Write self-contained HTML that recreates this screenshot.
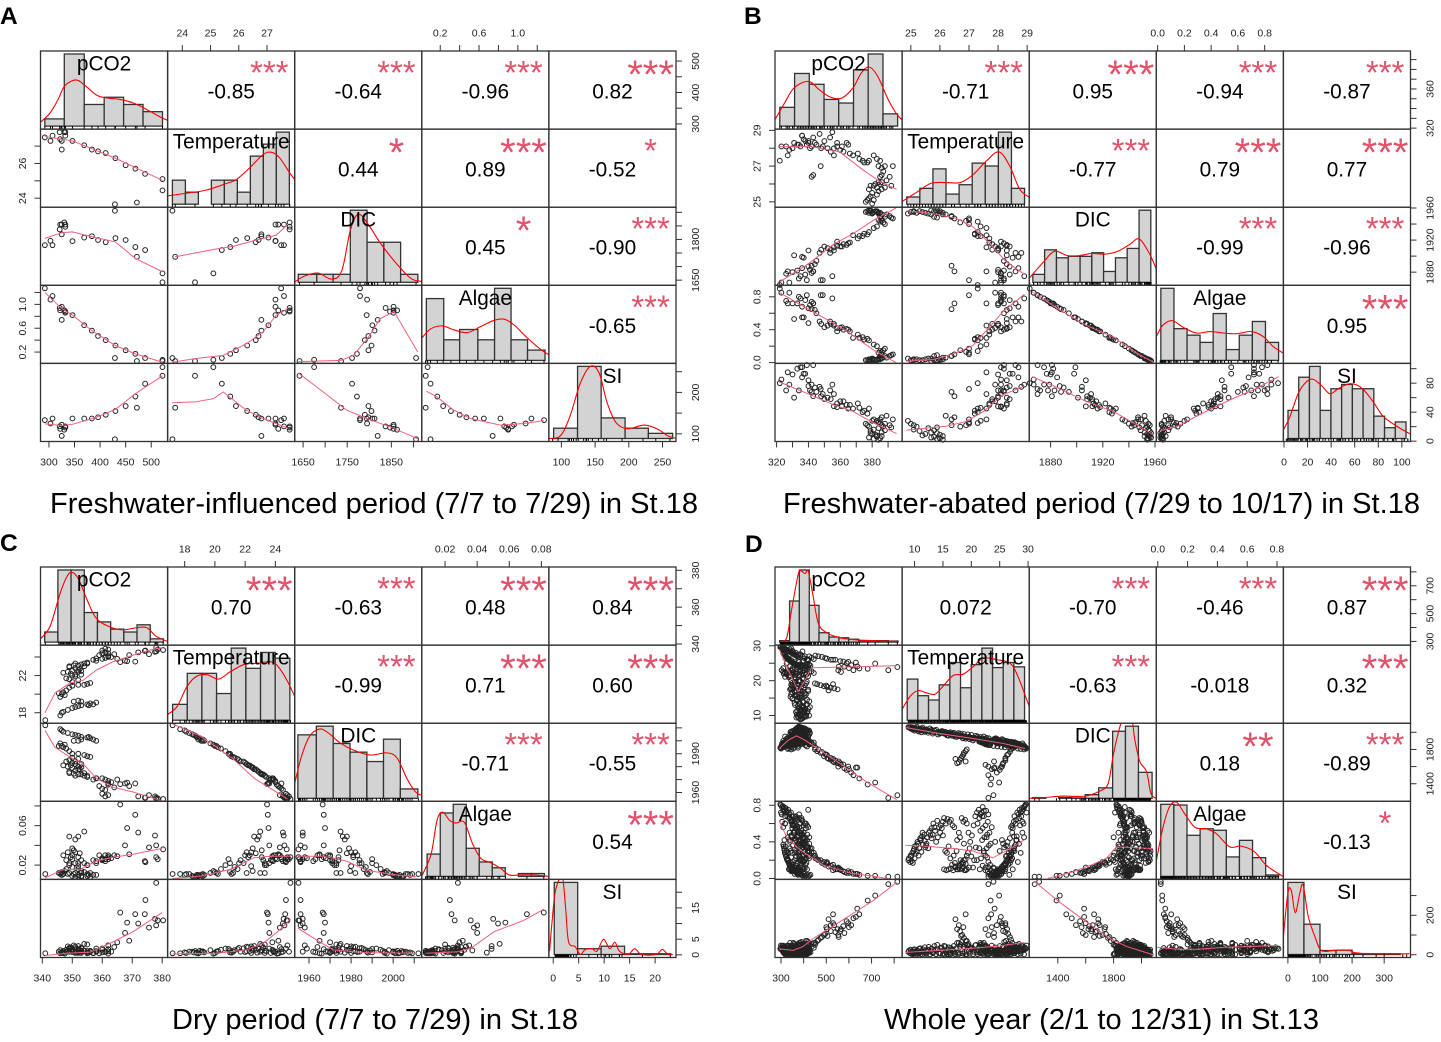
<!DOCTYPE html>
<html lang="en">
<head>
<meta charset="utf-8">
<title>Correlation matrices for four periods</title>
<style>
html,body{margin:0;padding:0;background:#fff}
svg{display:block}
text{font-family:"Liberation Sans",Arial,sans-serif}
</style>
</head>
<body>
<svg id="figure" width="1441" height="1042" viewBox="0 0 1441 1042" xmlns="http://www.w3.org/2000/svg">
<text x="0" y="24" font-size="24.5" font-weight="bold">A</text>
<text x="744" y="24" font-size="24.5" font-weight="bold">B</text>
<text x="0" y="551" font-size="24.5" font-weight="bold">C</text>
<text x="745" y="552" font-size="24.5" font-weight="bold">D</text>
<text x="50" y="513" font-size="29" textLength="648" lengthAdjust="spacing">Freshwater-influenced period (7/7 to 7/29) in St.18</text>
<text x="783" y="513" font-size="29" textLength="637" lengthAdjust="spacing">Freshwater-abated period (7/29 to 10/17) in St.18</text>
<text x="172" y="1029" font-size="29" textLength="406" lengthAdjust="spacing">Dry period (7/7 to 7/29) in St.18</text>
<text x="884" y="1029" font-size="29" textLength="435" lengthAdjust="spacing">Whole year (2/1 to 12/31) in St.13</text>
</svg>
<script>
const varNames = ['pCO2','Temperature','DIC','Algae','SI'];

/* ---------- Panel A ---------- */
const A_domains = [[283.5,532],[23.48,27.98],[1631,1919],[0.01,1.32],[81.5,270]];
const A_ticks = [[300,350,400,450,500],[24,25,26,27],[1650,1700,1750,1800,1850,1900],[0.2,0.4,0.6,0.8,1.0,1.2],[100,150,200,250]];
const A_hLabels = [['300','350','400','450','500'],['24','25','26','27'],['1650','1750','1850'],['0.2','0.6','1.0'],['100','150','200','250']];
const A_vLabels = [['300','400','500'],['24','26'],['1650','1800'],['0.2','0.6','1.0'],['100','200']];
const A_corr = ['-0.85','-0.64','-0.96','0.82','0.44','0.89','-0.52','0.45','-0.90','-0.65'];
const A_stars = ['***','***','***','***','*','***','*','*','***','***'];
const A_obs = [
[292,27.5,1779,1.27,133],[303,27.3,1795,1.08,125],[307,27.6,1779,1.14,137],[321,27.8,1837,.94,118],[322,27.4,1855,.9,112],
[325,26.8,1819,.74,95],[325,27.3,1855,.96,122],[330,27.8,1863,.9,110],[332,27.8,1847,.88,115],[332,27.6,1855,.86,118],
[346,27.3,1794,.82,137],[369,27.05,1807,.65,137],[384,26.8,1812,.56,137],[396,26.7,1798,.47,140],[411,26.6,1790,.4,146],
[430,26.3,1805,.31,155],[429,23.65,1906,.1,87],[450,25.9,1798,.23,167],[469,25.7,1772,.17,190],[472,23.75,1736,.05,163],
[488,25.4,1761,.1,221],[522,24.45,1642,.05,240],[522,25.1,1675,.07,261]];
const A_breaks = [[292,330,369,408,446,484,522],[23.65,24.11,24.57,25.03,25.49,25.95,26.41,26.87,27.33,27.79],[1639,1681,1718,1757,1795,1833,1871,1910],[.057,.236,.4,.588,.76,.93,1.1,1.28],[88.5,124,159,194.5,229,265]];
const A_heights = [[1,10,3,4,3,2],[2,1,0,2,2,1,4,5,6],[1,1,1,9,5,5,1],[6,2,3,2,7,2,1],[2,14,4,2,1]];
const A_density = [
[[283,.5],[302,1.8],[318,3.7],[331,5.6],[353,6.4],[371,5.6],[393,4.3],[413,3.9],[439,3.7],[465,3.2],[491,2.3],[518,1.25],[532,.8]],
[[23.47,.69],[24.15,.91],[24.86,1.18],[25.57,1.73],[25.92,2.06],[26.39,3.03],[26.86,4.13],[27.16,4.32],[27.45,3.85],[27.8,2.61],[27.98,2.06]],
[[1631,.05],[1654,.8],[1684,1.15],[1715,.4],[1738,1.5],[1757,6.5],[1775,8.5],[1798,7.2],[1825,4.9],[1859,2.5],[1894,.5],[1919,.1]],
[[.005,2.1],[.098,3.04],[.22,3.35],[.34,2.97],[.48,2.7],[.62,3.3],[.75,3.87],[.86,4],[.96,3.45],[1.1,2.16],[1.24,1.03],[1.32,.55]],
[[81,0],[98.5,.5],[113,4.4],[128,10.7],[143,14],[156,12.7],[168,6.9],[181,3.1],[198,1.9],[223,2.6],[243,1.8],[258,.5],[271,0]]];
const A_loess = [
[[292,27.55],[346,27.3],[384,26.85],[430,26.3],[522,25.03]],
[[292,1804],[325,1825],[346,1828],[384,1810],[430,1791],[469,1730],[522,1681]],
[[23.74,1736],[25.1,1763],[25.8,1775],[26.63,1798],[27.33,1816],[27.75,1857]],
[[292,1.2],[325,.93],[346,.82],[384,.56],[430,.31],[469,.17],[522,.03]],
[[23.65,.03],[24.45,.09],[25.45,.145],[26.27,.34],[26.86,.54],[27.33,.82],[27.75,.93]],
[[1639,.04],[1736,.06],[1764,.145],[1798,.45],[1825,.76],[1856,.88],[1910,.2]],
[[292,124],[325,120],[346,123],[393,140],[430,159],[469,197],[522,240]],
[[23.65,175],[24.45,177],[25.1,185],[25.45,201],[26.27,157],[26.86,137],[27.33,125],[27.75,113]],
[[1639,247],[1681,213],[1749,157],[1795,137],[1856,113],[1910,88]],
[[.057,203],[.167,189],[.34,157],[.51,137],[.82,121],[1.06,125],[1.27,132]]];

/* ---------- Panel B ---------- */
const B_domains = [[319,398.8],[24.7,29.07],[1863.6,1961],[-.01,.94],[-.5,107.3]];
const B_ticks = [[320,330,340,350,360,370,380,390],[25,26,27,28,29],[1880,1900,1920,1940,1960],[0,.2,.4,.6,.8],[0,20,40,60,80,100]];
const B_hLabels = [['320','340','360','380'],['25','26','27','28','29'],['1880','1920','1960'],['0.0','0.2','0.4','0.6','0.8'],['0','20','40','60','80','100']];
const B_vLabels = [['320','360'],['25','27','29'],['1880','1920','1960'],['0.0','0.4','0.8'],['0','40','80']];
const B_corr = ['-0.71','0.95','-0.94','-0.87','-0.77','0.79','0.77','-0.99','-0.96','0.95'];
const B_stars = ['***','***','***','***','***','***','***','***','***','***'];
const B_obs = [
[376,25,1955,.03,24],[377,25.1,1956,.03,22],[378,25.2,1954,.04,20],[380,24.9,1953,.05,28],[381,25.1,1955,.04,16],[379,25.3,1956,.03,14],[380,25.5,1954,.04,10],[383,25.4,1955,.03,8],[384,25.6,1953,.05,18],[378,25.7,1957,.02,5],
[381,25.9,1955,.03,3],[383,25.8,1956,.03,6],[385,26,1954,.04,4],[382,26,1956,.03,9],[386,25.7,1952,.05,12],[379,25.9,1957,.02,11],[384,26.1,1954,.04,2],[388,25.8,1949,.08,15],[386,26.1,1952,.06,7],[392,25.9,1948,.09,19],
[375,27.2,1928,.28,42],[377,27.2,1927,.29,38],[378,27.3,1930,.27,45],[381,27.6,1935,.22,30],[383,27.4,1937,.2,28],[385,27.3,1943,.14,25],[386,26.9,1944,.13,22],[384,27,1945,.12,26],[387,26.7,1942,.15,20],[388,27,1940,.17,24],
[386,26.5,1947,.1,33],[389,26.2,1952,.06,35],[385,26.4,1949,.08,30],[393,27,1947,.1,30],[391,26.4,1950,.08,22],
[345,28.2,1894,.6,68],[352,28,1910,.45,60],[354,27.8,1908,.47,58],[356,27.6,1911,.45,65],[358,28.3,1913,.42,52],[360,27.9,1912,.42,55],[361,28.1,1912,.43,48],[362,27.8,1915,.4,55],[365,28.2,1916,.4,45],[366,27.7,1917,.38,50],
[368,27.6,1926,.3,45],[371,27.7,1922,.34,52],[364,28.3,1914,.41,50],[372,27.4,1925,.3,46],[374,27.3,1925,.31,40],[356,28,1907,.47,48],[358,28.1,1918,.38,47],
[322,27.3,1864,.9,80],[323,28.1,1867,.85,85],[326,28.1,1878,.75,70],[327,27.6,1881,.72,95],[328,27.9,1867,.85,78],[330,28,1880,.72,92],[331,28.3,1901,.53,60],[333,28.2,1882,.72,100],[334,28.2,1872,.8,70],[335,28.1,1875,.78,102],
[336,28.7,1899,.55,102],[337,28.5,1898,.55,93],[338,28.4,1877,.76,93],[339,28.2,1870,.82,105],[340,28.3,1907,.48,84],[340,28.4,1887,.66,76],[341,28,1883,.7,70],[342,28.1,1879,.74,78],[343,28.6,1881,.72,105],[344,28.3,1890,.64,74],
[348,28,1908,.47,62],[349,28.1,1870,.82,65],[350,28.4,1912,.43,58],[342,26.4,1888,.65,68],[343,26.5,1881,.72,62],[347.7,27,1870,.82,72],[355,28.9,1875,.78,78],[353.6,28.6,1904,.5,70],[347,28.8,1904,.5,75],[336,28.7,1885,.68,88]];
const B_breaks = [[322,331.3,340.5,349.8,359,368.3,377.5,386.8,396],[24.86,25.31,25.76,26.21,26.66,27.11,27.56,28.01,28.46,28.91],[1866.4,1875.4,1884.5,1893.5,1902.6,1911.6,1920.6,1929.7,1938.7,1947.8,1956.8],[.024,.122,.22,.317,.415,.513,.61,.708,.806,.904],[3.4,12.5,21.6,30.7,39.8,48.9,58,67.1,76.2,85.3,94.4,103.5]];
const B_heights = [[26,73,58,37,32,78,100,17],[10,22,49,14,27,57,53,100,22],[11,45,34,36,36,41,15,34,47,100],[100,44,35,25,65,15,35,54,25],[39,85,100,39,69,75,69,69,31,15,23]];
const B_density = [
[[319,9],[325,32],[331,53],[340,62],[347,50],[354,40],[361,39],[368,53],[373,73],[378,82],[383.5,69],[390,37],[395,18],[398.5,9]],
[[24.7,3.7],[25.2,16.5],[25.7,29],[26.2,30],[26.7,30],[27.14,41],[27.6,60],[28.03,72.5],[28.4,53],[28.74,21],[29.07,9.6]],
[[1864,6.5],[1875,29],[1883,43],[1893,37],[1902,37],[1911.5,40],[1921.5,39],[1931.5,43],[1941,53],[1948,60],[1956,39],[1961,18]],
[[-.01,33],[.04,49],[.11,55],[.19,46],[.29,38],[.39,40],[.49,38],[.59,37],[.7,40],[.79,33],[.865,19],[.94,10]],
[[-.5,12],[5.2,31],[12.2,63],[19.3,79],[24.9,82],[32,73],[39,62],[46,69],[56,76],[66,70],[76,50],[84,31],[95.6,17],[107.4,6]]];
const B_loess = [
[[322,28.08],[340.8,28.1],[359.6,27.8],[374,26.8],[384.6,26.15],[395.4,25.7]],
[[322,1868],[339,1889],[356,1915],[368,1928],[381,1945],[395,1960]],
[[24.85,1956.6],[25.77,1953],[26.57,1947],[27.14,1936.6],[27.7,1916],[28.28,1893],[28.9,1877.5]],
[[321.5,.854],[339,.66],[356,.476],[368,.33],[381,.15],[395,0]],
[[24.85,.016],[25.77,.037],[26.57,.117],[27.14,.21],[27.6,.39],[28.17,.62],[28.9,.83]],
[[1866,.86],[1887,.64],[1907,.455],[1928,.31],[1948.5,.09],[1958.7,.007]],
[[321.5,82],[339,66],[356,50],[368,41],[381,25],[395.4,10.5]],
[[24.85,15],[25.54,18],[26.2,20.5],[26.9,27],[27.5,41],[28.17,64],[28.9,76]],
[[1866,89],[1884,75],[1907,55],[1928,41],[1948.5,20],[1958.7,9]],
[[.016,14],[.14,20],[.34,39],[.565,59],[.714,70.5],[.904,89]]];

/* ---------- Panel C ---------- */
const C_domains = [[339.4,381.8],[16.87,25.28],[1953.2,2013.6],[.0055,.0847],[-.85,24.1]];
const C_ticks = [[340,350,360,370,380],[18,20,22,24],[1960,1970,1980,1990,2000,2010],[.02,.04,.06,.08],[0,5,10,15,20]];
const C_hLabels = [['340','350','360','370','380'],['18','20','22','24'],['1960','1980','2000'],['0.02','0.04','0.06','0.08'],['0','5','10','15','20']];
const C_vLabels = [['340','360','380'],['18','22'],['1960','1990'],['0.02','0.06'],['0','5','15']];
const C_corr = ['0.70','-0.63','0.48','0.84','-0.99','0.71','0.60','-0.71','-0.55','0.54'];
const C_stars = ['***','***','***','***','***','***','***','***','***','***'];
const C_obs = [
[366,23.45,1966.5,.0815,13.5],[371,23.5,1967,.071,13],[368.3,23.55,1967.6,.0576,10.3],[367.6,23.6,1967,.04,7],[372,24.5,1957,.053,10],[374.4,24.7,1956,.023,17.5],[374.2,24.65,1956,.024,13],[375.6,24.3,1958,.038,8.7],[377.6,24.55,1957,.05,11.5],[378,25,1955,.028,23],[378,24.6,1956,.04,9.4],[380.3,24.75,1955,.036,11],[378.5,24.8,1955.5,.026,11],
[341,17.2,2012,.011,.5],[346,17.7,2009,.011,.5],[346.5,18,2008,.01,.8],[347,18.1,2007,.011,.6],[348.5,18.3,2006,.011,1],[350,18.5,2005,.009,1],[351,18.6,2004.5,.008,.8],[352,18.7,2004,.008,1.2],[353,18.8,2003,.008,.6],[353,19.2,2001,.009,1],[355,18.9,2002.5,.009,.5],[355.5,18.8,2003,.01,.7],[356,19,2002,.008,1.3],[357,18.9,2001,.01,.5],[358,19.1,2000,.01,1],[350.5,19.2,2000,.011,1.1],[352,19.3,2000,.01,.8],
[346,19.7,1998,.012,1.5],[346.5,20,1996,.013,.6],[347,20.2,1995,.011,1.2],[347.5,19.9,1997,.014,.4],[345.5,20.1,1996,.012,1],[348,20.4,1994,.016,1.6],[349,20.7,1992,.02,2],[352,21,1990,.022,.8],
[350,21.3,1987,.018,1.5],[349,21.6,1985,.022,2.2],[348,21.7,1984,.025,1],[350,22,1983,.03,.9],[351,22.1,1982,.033,2.6],[347,22.3,1981,.03,1.2],[348.5,22.4,1980,.033,2.7],[350,22.5,1979,.037,1.4],[352,22.6,1978,.049,2.8],[351,22.8,1977,.046,.7],[352.5,22.7,1978,.032,1.6],[349,22.9,1976,.049,1.9],[354,23,1975,.054,3.5],[350.5,23.1,1974.5,.035,3],[352,23.1,1974,.028,1.5],[353,23.2,1974,.025,2.3],[354,23.3,1973,.022,1.3],[355,23.3,1973,.02,3.3],[351,23.3,1973,.012,.6],[353,22.1,1982,.012,1.2],[355,21.1,1988,.011,.7],[356,21.2,1987.5,.012,1],[354,21,1989,.013,1.4],[352,21.5,1986,.016,1.8],[349.5,22.2,1981,.028,2.4],[350,20.9,1990,.026,1.9],[351,21.9,1984,.022,2.1],[352,22.4,1980,.019,.6],[353,22.5,1979.5,.014,2],
[358,23.85,1971,.024,1.2],[360,23.8,1971,.025,1.6],[361,23.9,1970,.03,.9],[362,24,1969,.03,1.1],[362,24.4,1967,.028,1.8],[363,24,1968,.027,1],[365,23.8,1970,.029,4],[359,24.2,1965,.03,.5],[360,24.4,1963,.026,.8],[361,24.5,1962,.024,1],[362,24.1,1966,.026,.4],[358,23.6,1971,.022,2],[355,23.4,1972,.02,1.2],[357,23.7,1970,.025,.6],[349,23,1975,.012,1],[360,24.7,1959,.027,2],[361,24.9,1957,.026,1],[362,24.8,1958,.028,3],[369,24.2,1965,.031,4.5],[364,24.3,1964,.03,2.5]];
const C_breaks = [[340.8,345.2,349.6,354,358.4,362.8,367.2,371.6,376,380.4],[17.2,18.17,19.14,20.11,21.08,22.05,23.02,23.99,24.96],[1954.7,1963.5,1971.5,1979.5,1987.5,1995.4,2003.4,2011.7],[.0088,.017,.0251,.0332,.0413,.0494,.0575,.0657,.0738,.0819],[.2,4.8,9.4,14,18.6,23.1]];
const C_heights = [[14,100,100,41,28,18,14,24,4.5],[22,65,65,37,100,72,94,86],[88,100,76,64,51,82,13],[31,88,100,39,20,12,0,4,4],[100,8,11.5,1,1]];
const C_density = [
[[339.4,4.5],[342.6,22],[345.9,67],[348.1,90],[349.8,97],[352,88],[354.8,60],[358,33],[362.6,21],[367,17],[371.5,20],[374.8,20],[378,8],[381.7,1]],
[[16.87,8],[17.5,19],[18.16,47],[18.8,61],[19.5,63],[20.25,57],[21,67],[21.9,77],[22.8,79],[23.7,81],[24.2,74],[24.8,54],[25.3,32]],
[[1953.2,20.5],[1956.4,58],[1960.3,86],[1965,96],[1969,91],[1974.7,77],[1981,67],[1989,60],[1997,63],[2001.8,56],[2006.6,27],[2010.6,9],[2013.5,4]],
[[.0057,1.4],[.0113,31],[.015,78],[.0186,89],[.0227,78],[.0268,74],[.032,75],[.0372,45],[.0423,25],[.0485,19],[.0547,11],[.0599,2],[.0671,2],[.0754,2],[.0847,0]],
[[-.72,4.6],[-.2,48],[.45,89],[1.75,108],[2.4,67],[3,18],[4.3,11],[5.3,0],[6.3,7],[7.6,8],[8.6,4.6],[9.85,21],[11.1,8],[12.1,17],[13,4.6],[14.7,0],[16,8],[17.3,0],[20.2,0],[21.4,7],[22.5,0],[23.5,0]]];
const C_loess = [
[[340.9,18],[344.2,20.1],[349.2,21.2],[353.7,21.5],[358,22.6],[363.7,23.5],[370.3,24.2],[375.3,24.7],[380,25]],
[[340.9,2008],[344.2,1995],[349.2,1987.5],[353.7,1982],[358,1971],[363.7,1964],[370.3,1960.4],[380,1953.4]],
[[17.2,2013],[19,2004],[21.2,1986],[22.6,1971],[24.8,1955]],
[[340.9,.007],[347,.0156],[352.6,.0156],[358,.024],[363.7,.028],[370.3,.031],[380,.037]],
[[17.2,.0064],[19,.0087],[21,.0156],[22.6,.0275],[23.7,.029],[25,.029]],
[[1954.7,.029],[1966.7,.029],[1977.9,.024],[1987.5,.0145],[2000,.0105],[2011,.008]],
[[340.9,-.2],[348.1,.5],[356,.85],[363.7,4.2],[370.3,7.4],[380,13.5]],
[[17.2,.3],[20.15,.5],[22.1,1.6],[23.2,3.7],[24.3,8],[25,11.4]],
[[1954.7,8.5],[1963.5,4.8],[1971.5,1.6],[1987.5,.7],[2011,.5]],
[[.0082,.5],[.028,1],[.036,2.1],[.0506,7.4],[.069,11],[.0816,14.6]]];

/* ---------- Panel D ---------- */
const D_domains = [[273.5,835],[7.8,30.2],[1195,2106],[-.01,.843],[-14,382]];
const D_ticks = [[300,400,500,600,700,800],[10,15,20,25,30],[1400,1600,1800,2000],[0,.2,.4,.6,.8],[0,100,200,300]];
const D_hLabels = [['300','500','700'],['10','15','20','25','30'],['1400','1800'],['0.0','0.2','0.4','0.6','0.8'],['0','100','200','300']];
const D_vLabels = [['300','500','700'],['10','20','30'],['1400','1800'],['0.0','0.4','0.8'],['0','200']];
const D_corr = ['0.072','-0.70','-0.46','0.87','-0.63','-0.018','0.32','0.18','-0.89','-0.13'];
const D_stars = ['','***','***','***','***','','***','**','***','*'];
const D_obs = [
[297,29.6,1820,.81,30],[300,29.5,1825,.8,34],[304,29.3,1822,.78,24],[308,29.4,1835,.79,38],[312,29.2,1828,.76,28],[316,29,1838,.74,42],[320,28.9,1842,.77,20],[324,28.7,1840,.72,30],[328,28.8,1850,.68,46],[332,28.5,1846,.75,26],[336,28.3,1855,.7,36],[340,28.4,1860,.66,18],[344,28.1,1858,.72,44],[348,27.9,1866,.64,32],[352,27.8,1870,.6,24],[356,27.6,1864,.68,38],[360,27.5,1878,.62,16],[364,27.3,1882,.55,30],[368,27.2,1876,.58,42],[372,27,1888,.56,22],[318,29.2,1850,.6,28],[338,29,1835,.5,33],[350,28.6,1845,.58,20],[346,28,1872,.46,26],
[310,27.8,1835,.37,14],[312,27.6,1840,.35,22],[314,27.5,1832,.33,8],[315,27.4,1846,.31,18],[317,27.1,1842,.28,26],[320,27,1850,.26,12],[322,26.9,1838,.24,4],[324,26.7,1856,.25,20],[326,26.6,1848,.21,10],[328,26.5,1860,.22,28],[330,26.4,1864,.19,6],[332,26.2,1852,.2,16],[334,26,1870,.17,2],[336,25.9,1874,.16,24],[338,25.8,1862,.14,12],[340,25.7,1880,.15,18],[343,25.5,1876,.12,5],[346,25.4,1884,.13,10],[349,25.2,1890,.11,22],[352,25.1,1868,.09,3],[355,25,1894,.1,15],[358,24.9,1886,.08,8],[361,24.8,1900,.09,26],[364,24.7,1878,.07,1],[367,24.6,1905,.08,12],[370,24.5,1912,.06,6],[373,24.4,1896,.07,18],[376,24.3,1908,.05,2],[380,24.6,1920,.06,9],[384,24.2,1888,.05,20],[388,24.4,1915,.04,4],[392,24.1,1925,.04,14],[396,24.5,1902,.03,7],[400,24.3,1930,.05,24],[405,24.2,1894,.03,11],[410,24,1915,.03,3],[415,24.4,1880,.04,16],[420,24.1,1905,.02,8],[425,24.6,1870,.03,22],[430,24.3,1890,.04,12],
[385,8.9,2060,.2,14],[390,9,2055,.22,20],[395,9.2,2050,.18,8],[380,9.3,2062,.25,26],[400,9.5,2048,.19,12],[375,9.6,2058,.28,18],[405,9.8,2045,.3,24],[390,9.9,2052,.32,6],[385,10,2040,.35,28],[410,10.2,2035,.27,10],[370,10.3,2050,.36,16],[395,10.5,2030,.4,22],[380,10.6,2045,.38,9],[415,10.8,2028,.33,30],[400,11,2038,.44,13],[388,11.1,2025,.42,4],[372,11.3,2040,.46,19],[405,11.5,2022,.37,27],[392,11.7,2030,.48,11],[420,11.9,2018,.34,7],[382,12,2015,.36,23],[398,12.2,2026,.45,15],
[400,12.5,2012,.5,40],[375,12.8,2020,.47,18],[410,13,2008,.55,30],[385,13.3,2002,.6,12],[360,13.6,2015,.52,25],[395,14,1998,.63,50],[370,14.3,2006,.56,8],[415,14.6,1990,.58,36],[350,15,2000,.62,20],[380,15.2,1985,.66,45],[405,15.5,1980,.6,16],[365,15.8,1995,.65,28],[345,16.1,1990,.62,10],[390,16.4,1975,.64,34],[360,16.7,1985,.58,22],[420,17,1965,.56,14],
[375,15.2,1992,.1,6],[390,15.6,1988,.09,14],[370,16,1985,.1,2],[405,16.4,1975,.11,9],[360,16.8,1978,.09,16],[385,17.2,1970,.12,4],[350,17.6,1972,.1,11],[400,18,1960,.1,7],[375,18.4,1962,.11,18],[345,18.8,1950,.09,13],[395,19.2,1945,.1,3],[365,19.6,1948,.12,20],
[340,17.5,1968,.42,60],[355,17.8,1955,.5,60],[370,18,1962,.45,40],[390,18.3,1950,.66,65],[350,18.6,1952,.62,40],[375,18.9,1946,.64,50],[410,19.2,1940,.6,70],[360,19.5,1944,.5,55],[385,19.8,1935,.4,30],[345,20.1,1938,.47,30],[400,20.4,1925,.58,25],[365,20.7,1930,.68,48],[335,21,1930,.72,22],[420,21.3,1915,.75,35],[380,21.6,1920,.7,60],[350,21.9,1922,.68,42],[325,22.2,1925,.74,18],
[303,23,1850,.7,25],[310,22.6,1860,.74,12],[318,22.2,1870,.68,30],[326,21.8,1880,.72,20],[335,21.4,1890,.66,35],[345,22.9,1870,.62,16],[355,22.5,1880,.58,42],[365,22,1890,.55,26],[375,21.6,1895,.52,50],[385,23.2,1875,.5,14],[395,22.8,1885,.48,32],[405,22.3,1895,.45,20],[415,21.9,1900,.42,55],[425,23.4,1870,.38,28],[435,22.7,1875,.33,40],[445,22.2,1880,.28,60],
[365,28,1850,.42,50],[375,27.5,1870,.46,35],[385,27.2,1885,.5,60],[395,26.8,1890,.44,30],[405,26.4,1880,.4,45],[415,26.1,1895,.36,70],[425,27,1860,.3,25],[435,26.6,1870,.28,55],[445,26.2,1850,.25,35],[420,25.8,1900,.34,65],[400,25.6,1910,.38,40],[380,25.4,1920,.42,20],
[360,21,1930,.2,12],[370,22,1920,.14,8],[385,22.5,1915,.12,18],[400,23,1900,.18,6],[350,23.5,1905,.09,24],[340,21.5,1925,.1,10],[395,20.5,1935,.2,15],[345,22.8,1910,.23,4],[375,23.8,1895,.06,20],
[452,27.2,1820,.22,60],[465,27,1800,.2,75],[481,26.8,1770,.17,90],[495,26.5,1745,.15,105],[503,26.3,1735,.18,130],[520,26,1700,.14,150],[530,26,1690,.15,160],[540,26,1670,.1,115],[562,25.6,1640,.1,120],[575,25.5,1625,.08,145],[597,25.4,1600,.08,160],[631,25.2,1589,.05,192],
[450,19.2,1800,.25,50],[460,19,1780,.21,70],[475,18.7,1760,.2,85],[490,18.4,1720,.18,100],[505,18.2,1700,.16,95],[520,18,1680,.14,120],[535,17.8,1650,.12,150],[550,17.5,1640,.1,130],[510,17.2,1690,.13,180],[530,19,1660,.09,205],[500,18.6,1740,.17,140],
[553,23,1600,.12,100],[565,22.5,1620,.09,130],[580,24,1580,.07,110],[620,23,1500,.05,185],[637,24.1,1589,.05,234],[646,23.5,1461,.04,205],[683,23.4,1391,.03,275],[716,24.9,1414,.03,300],[774,23,1234,.02,358],[814,23.9,1266,.02,370],[590,25,1560,.06,170],[610,24.5,1530,.07,150],[555,24,1660,.11,90],[600,23.6,1570,.06,140],
[368,9.4,2040,.24,5],[412,9.7,2030,.17,3],[424,10,2020,.22,9],[378,10.4,2065,.3,2],[402,10.7,2010,.25,6],[366,11,2020,.42,33],[418,11.2,2000,.29,17],[386,11.4,2055,.5,1],[408,11.8,2005,.41,38],[376,12.1,2035,.38,4],[428,12.4,1995,.33,25],[390,12.7,2045,.52,2],[362,13,2030,.44,31],[416,13.2,1985,.48,8],[380,13.5,2020,.56,44],[400,13.8,2030,.4,3],[425,14.1,1975,.45,28],[372,14.5,1985,.5,5],[350,14.8,2015,.55,35],[392,15,2010,.47,2],
[342,15.4,2005,.3,42],[362,15.7,1965,.28,3],[410,16,1960,.35,38],[380,16.3,2000,.22,1],[350,16.6,1960,.15,27],[396,16.9,1995,.25,44],[366,17.1,1950,.17,4],[420,17.4,1945,.3,33],[344,17.7,1990,.14,2],[388,18.1,1985,.2,52],[356,18.5,1930,.13,6],[405,18.7,1980,.38,40],[372,19,1925,.16,1],[350,19.4,1975,.28,47],[414,19.7,1920,.33,5],[382,20,1970,.24,36],[360,20.3,1905,.12,3],
[398,20.8,1960,.34,50],[318,21.1,1950,.6,3],[340,21.4,1895,.33,42],[410,21.7,1945,.22,7],[312,22,1880,.78,33],[365,22.2,1950,.3,1],[425,22.5,1860,.25,48],[330,22.7,1935,.45,4],[385,22.9,1855,.08,38],[352,23.1,1930,.36,2],[408,23.3,1850,.15,29],[310,23.6,1900,.56,46],[375,23.9,1840,.12,5],[340,24.2,1920,.4,37],[415,24.6,1835,.1,3],
[325,25,1905,.3,44],[360,25.3,1830,.05,2],[395,25.6,1910,.12,40],[345,25.9,1825,.08,5],[420,26.1,1900,.24,52],[320,26.4,1895,.35,1],[375,26.7,1820,.04,34],[405,27,1890,.2,3],[335,27.3,1815,.1,46],[385,27.6,1885,.3,7],[315,27.9,1875,.42,38],[355,28.2,1810,.18,3],[395,28.4,1865,.38,55],[330,28.7,1805,.28,6],[305,29,1870,.62,44],[345,29.3,1800,.45,2],[300,29.7,1810,.72,47]];
const D_breaks = [[294,338,381,425,468,512,556,599,643,686,730,774,817],[8.7,10.58,12.46,14.34,16.22,18.1,19.98,21.86,23.74,25.62,27.5,29.38],[1220,1314,1407,1501,1597,1693,1793,1885,1978,2076],[.02,.108,.196,.284,.372,.46,.548,.636,.724,.812],[0,50,100,150,200,250,300,350]];
const D_heights = [[2,57,100,51,13,7,6,4,2,2,2,1.5],[57,34,28,49,80,45,77,100,73,80,74],[1,0,1,.5,5,14.5,93,100,36],[100,99,57,66,64,27,50,26,2],[100,42,5.5,6,1,1,1]];
const D_density = [
[[297,1],[325,6],[347,45],[376.6,95],[391,98],[406,95],[420.5,98],[440,67],[465,26],[502,13],[560,6],[634,3],[811,1]],
[[7.8,15],[9.2,33],[10.6,41],[12.1,38],[13.6,36],[15,47],[16.8,62],[18.6,64],[20.3,74],[22.1,86],[24.4,84],[26.8,79],[28.2,61],[30.2,19]],
[[1196,0],[1304,1],[1424,3],[1592,3],[1700,10],[1760,20],[1796,58],[1832,90],[1861,107],[1892,108],[1932,108],[1952,81],[1988,51],[2036,37],[2067,7],[2103,0]],
[[-.013,18],[.036,69],[.08,97],[.126,103],[.18,87],[.25,68],[.327,66],[.394,59],[.483,41],[.56,42],[.65,34],[.73,15],[.84,0]],
[[-14,25],[0,85],[10.5,89],[23,58],[37,85],[47.5,96],[63.3,53],[84,25],[105,5.5],[147.5,6],[189.5,6],[210.5,2.3],[273.7,1],[379,1]]];
const D_loess = [
[[292.6,29],[332,23],[376.5,16.9],[406,20.1],[435,23.7],[560,23.9],[811,24.3]],
[[292.6,1811],[332,1908],[369,1959],[406,1908],[472,1791],[560,1636],[678,1421],[811,1215]],
[[8.4,2056],[14.4,1986],[20.3,1928],[25.6,1870],[29.4,1811]],
[[292.6,.626],[325,.454],[362,.363],[398,.29],[487,.145],[605,.06],[708,.025],[767,0]],
[[8.4,.363],[12.1,.352],[16.8,.327],[20.3,.3],[23.8,.225],[27.4,.345],[29.4,.425]],
[[1328,0],[1508,.072],[1652,.155],[1748,.22],[1820,.345],[2083,.327]],
[[292.6,30],[354,22],[398,42],[443,83],[560,167],[708,275],[811,367]],
[[8.4,12],[14.4,22],[20.3,33],[25,45],[29.4,62]],
[[1232,372],[1412,267],[1604,167],[1772,83],[1892,42],[2083,0]],
[[-.01,38],[.136,28],[.27,28],[.45,38],[.63,42],[.81,47]]];

const SVGNS = 'http://www.w3.org/2000/svg';
const CELL_W = 127.1, CELL_H = 78.1;
const figure = document.getElementById('figure');

function mk(tag, attrs, parent) {
  const el = document.createElementNS(SVGNS, tag);
  for (const k in attrs) el.setAttribute(k, attrs[k]);
  parent.appendChild(el);
  return el;
}
function smoothPath(pts) {
  let d = 'M' + pts[0][0].toFixed(2) + ' ' + pts[0][1].toFixed(2);
  for (let i = 0; i < pts.length - 1; i++) {
    const p0 = pts[Math.max(i - 1, 0)], p1 = pts[i], p2 = pts[i + 1], p3 = pts[Math.min(i + 2, pts.length - 1)];
    const c1x = p1[0] + (p2[0] - p0[0]) / 6, c1y = p1[1] + (p2[1] - p0[1]) / 6;
    const c2x = p2[0] - (p3[0] - p1[0]) / 6, c2y = p2[1] - (p3[1] - p1[1]) / 6;
    d += 'C' + c1x.toFixed(2) + ' ' + c1y.toFixed(2) + ' ' + c2x.toFixed(2) + ' ' + c2y.toFixed(2) + ' ' + p2[0].toFixed(2) + ' ' + p2[1].toFixed(2);
  }
  return d;
}

function drawPanel(id, data, x0, y0) {
  const panel = mk('g', {}, figure);
  
  
  const left = c => x0 + c * CELL_W;
  const top = r => y0 + r * CELL_H;
  const scaleX = (v, i, c) => left(c) + (v - data.domains[i][0]) / (data.domains[i][1] - data.domains[i][0]) * CELL_W;
  const scaleY = (v, i, r) => top(r) + CELL_H - (v - data.domains[i][0]) / (data.domains[i][1] - data.domains[i][0]) * CELL_H;
  let corrIndex = 0;
  const loessIndex = {};
  let k = 0;
  for (let r = 1; r < 5; r++) for (let c = 0; c < r; c++) loessIndex[r + '-' + c] = k++;

  for (let r = 0; r < 5; r++) {
    for (let c = r + 1; c < 5; c++) {
      const g = mk('g', {}, panel);
      
      
      const txt = data.corr[corrIndex], star = data.stars[corrIndex];
      corrIndex++;
      const v = mk('text', {x: left(c) + CELL_W / 2, y: top(r) + 47.5, 'font-size': 20.8, 'text-anchor': 'middle', fill: '#000'}, g);
      
      
      v.textContent = txt;
      if (star) {
        const size = txt.length >= 5 ? 33 : 40;
        const s = mk('text', {x: left(c) + CELL_W * 0.8, y: top(r) + (size === 33 ? 33 : 37), 'font-size': size, 'text-anchor': 'middle', fill: '#df536b'}, g);
        
        
        s.textContent = star;
      }
    }
  }

  for (let r = 1; r < 5; r++) {
    for (let c = 0; c < r; c++) {
      const g = mk('g', {}, panel);
      
      
      data.obs.forEach(row => {
        const pt = mk('circle', {cx: scaleX(row[c], c, c).toFixed(2), cy: scaleY(row[r], r, r).toFixed(2), r: 2.4, fill: 'none', stroke: '#222', 'stroke-width': 1}, g);
        
        
      });
      const pts = data.loess[loessIndex[r + '-' + c]].map(p => scaleX(p[0], c, c).toFixed(2) + ',' + scaleY(p[1], r, r).toFixed(2));
      const line = mk('polyline', {points: pts.join(' '), fill: 'none', stroke: '#f0607c', 'stroke-width': 1}, g);
      
      
    }
  }

  for (let i = 0; i < 5; i++) {
    const g = mk('g', {}, panel);
    
    
    const heights = data.heights[i], breaks = data.breaks[i];
    const maxH = Math.max.apply(null, heights);
    const base = top(i) + CELL_H - 3;
    const barY = h => base - h / maxH * (CELL_H - 6);
    heights.forEach((h, b) => {
      const x1 = scaleX(breaks[b], i, i), x2 = scaleX(breaks[b + 1], i, i);
      const bar = mk('rect', {x: x1.toFixed(2), y: barY(h).toFixed(2), width: (x2 - x1).toFixed(2), height: (base - barY(h)).toFixed(2), fill: '#d3d3d3', stroke: '#333', 'stroke-width': 1.3}, g);
      
      
    });
    data.obs.forEach(row => {
      const x = scaleX(row[i], i, i).toFixed(2);
      const rug = mk('line', {x1: x, x2: x, y1: top(i) + CELL_H - 3, y2: top(i) + CELL_H - 0.6, stroke: '#000', 'stroke-width': 1}, g);
      
      
    });
    const clipId = 'clip-' + id + '-' + i;
    const clip = mk('clipPath', {id: clipId}, g);
    mk('rect', {x: left(i), y: top(i), width: CELL_W, height: CELL_H}, clip);
    const dens = mk('path', {d: smoothPath(data.density[i].map(p => [scaleX(p[0], i, i), barY(p[1])])), fill: 'none', stroke: '#f00', 'stroke-width': 1.1, 'clip-path': 'url(#' + clipId + ')'}, g);
    
    
    const label = mk('text', {x: left(i) + CELL_W / 2, y: top(i) + 19.5, 'font-size': 20.8, 'text-anchor': 'middle', fill: '#000'}, g);
    
    
    label.textContent = varNames[i];
  }

  for (let r = 0; r < 5; r++) {
    for (let c = 0; c < 5; c++) {
      const box = mk('rect', {x: left(c), y: top(r), width: CELL_W, height: CELL_H, fill: 'none', stroke: '#333', 'stroke-width': 1.3}, panel);
      
      
    }
  }

  for (let i = 0; i < 5; i++) {
    const g = mk('g', {}, panel);
    
    
    const onBottom = i % 2 === 0;
    const edgeY = onBottom ? top(5) : top(0);
    const dirY = onBottom ? 1 : -1;
    data.ticks[i].forEach(t => {
      const x = scaleX(t, i, i).toFixed(2);
      const tick = mk('line', {x1: x, x2: x, y1: edgeY, y2: edgeY + dirY * 6, stroke: '#333', 'stroke-width': 1}, g);
      
      
    });
    data.hLabels[i].forEach(s => {
      const lab = mk('text', {x: scaleX(parseFloat(s), i, i).toFixed(2), y: onBottom ? edgeY + 24 : edgeY - 14.3, 'font-size': 10.5, 'text-anchor': 'middle', fill: '#222'}, g);
      
      
      lab.textContent = s;
    });
    const onRight = i % 2 === 0;
    const edgeX = onRight ? left(5) : left(0);
    const dirX = onRight ? 1 : -1;
    data.ticks[i].forEach(t => {
      const y = scaleY(t, i, i).toFixed(2);
      const tick = mk('line', {x1: edgeX, x2: edgeX + dirX * 6, y1: y, y2: y, stroke: '#333', 'stroke-width': 1}, g);
      
      
    });
    data.vLabels[i].forEach(s => {
      const y = scaleY(parseFloat(s), i, i).toFixed(2);
      const bx = onRight ? edgeX + 23 : edgeX - 14.5;
      const lab = mk('text', {x: bx, y: y, 'font-size': 10.5, 'text-anchor': 'middle', fill: '#222', transform: 'rotate(-90 ' + bx + ' ' + y + ')'}, g);
      
      
      lab.textContent = s;
    });
  }
}

drawPanel('a', {domains: A_domains, ticks: A_ticks, hLabels: A_hLabels, vLabels: A_vLabels, corr: A_corr, stars: A_stars, obs: A_obs, breaks: A_breaks, heights: A_heights, density: A_density, loess: A_loess}, 40.5, 51);
drawPanel('b', {domains: B_domains, ticks: B_ticks, hLabels: B_hLabels, vLabels: B_vLabels, corr: B_corr, stars: B_stars, obs: B_obs, breaks: B_breaks, heights: B_heights, density: B_density, loess: B_loess}, 775, 51);
drawPanel('c', {domains: C_domains, ticks: C_ticks, hLabels: C_hLabels, vLabels: C_vLabels, corr: C_corr, stars: C_stars, obs: C_obs, breaks: C_breaks, heights: C_heights, density: C_density, loess: C_loess}, 40.5, 567);
drawPanel('d', {domains: D_domains, ticks: D_ticks, hLabels: D_hLabels, vLabels: D_vLabels, corr: D_corr, stars: D_stars, obs: D_obs, breaks: D_breaks, heights: D_heights, density: D_density, loess: D_loess}, 775, 567);
</script>
</body>
</html>
